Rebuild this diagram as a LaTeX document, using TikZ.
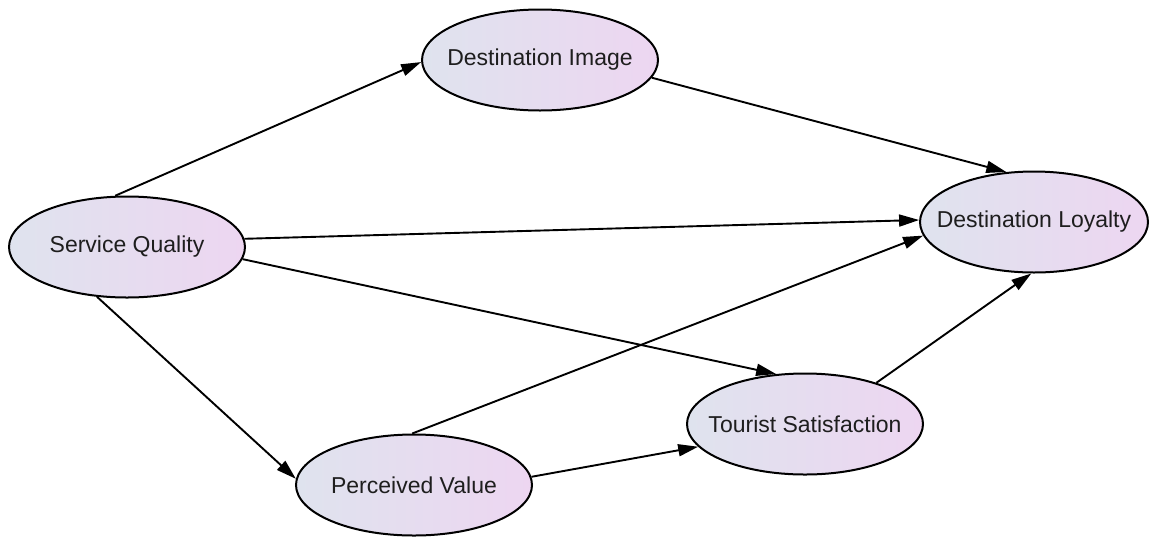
\documentclass[tikz,border=0pt]{standalone}
\usepackage{fontspec}
\setmainfont{Liberation Sans}
\usetikzlibrary{shapes.geometric,arrows.meta}
\definecolor{gleft}{RGB}{223,227,238}
\definecolor{gright}{RGB}{237,214,241}
\definecolor{txt}{RGB}{30,30,30}
\newcommand{\zw}[1]{\makebox[0pt]{#1}}
\tikzset{
  concept/.style={ellipse, draw=black, line width=2pt, left color=gleft, right color=gright,
    minimum width=236pt, minimum height=101pt, inner sep=0pt, text=txt,
    font=\fontsize{23}{26}\selectfont},
  link/.style={line width=1.9pt, -{Triangle[length=20pt,width=12pt]}}
}
\begin{document}
\begin{tikzpicture}[x=1pt,y=-1pt]
\useasboundingbox (0,0) rectangle (1150,536);
\node[concept] (sq) at (127,247) {\zw{Service Quality}};
\node[concept] (di) at (540,60) {\zw{Destination Image}};
\node[concept, minimum width=228pt] (dl) at (1034,222) {\zw{Destination Loyalty}};
\node[concept] (ts) at (805,424) {\zw{Tourist Satisfaction}};
\node[concept] (pv) at (414,485) {\zw{Perceived Value}};
\draw[link] (sq.103) -- (di.181);
\draw[link] (di.-9) -- (dl.119);
\draw[link] (sq.4) -- (dl.179);
\draw[link] (pv.92) -- (dl.187);
\draw[link] (sq.-6) -- (ts.120);
\draw[link] (sq.239) -- (pv.177);
\draw[link] (pv.4) -- (ts.192);
\draw[link] (ts.30) -- (dl.267);
\end{tikzpicture}
\end{document}
